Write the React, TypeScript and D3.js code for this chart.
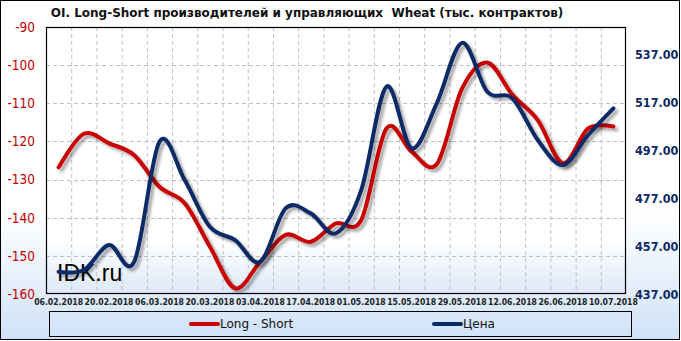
import React from 'react';
import * as d3 from 'd3';

const dates = [
  '06.02.2018', '13.02.2018', '20.02.2018', '27.02.2018', '06.03.2018', '13.03.2018',
  '20.03.2018', '27.03.2018', '03.04.2018', '10.04.2018', '17.04.2018', '24.04.2018',
  '01.05.2018', '08.05.2018', '15.05.2018', '22.05.2018', '29.05.2018', '05.06.2018',
  '12.06.2018', '19.06.2018', '26.06.2018', '03.07.2018', '10.07.2018',
];
const longShort = [
  -126.8, -118.0, -120.5, -123.6, -131.9, -136.2, -147.6, -158.5, -151.5, -144.5, -146.3, -141.5,
  -140.6, -116.6, -122.7, -125.9, -106.1, -99.3, -107.8, -114.4, -125.7, -116.6, -116.1,
];
const price = [
  446.3, 447.0, 457.4, 450.5, 500.5, 484.5, 465.0, 459.5, 450.5, 472.7, 470.6, 462.3,
  480.3, 523.4, 497.7, 516.6, 541.7, 521.3, 518.5, 501.2, 490.8, 503.3, 514.4,
];
const leftTicks = [-90, -100, -110, -120, -130, -140, -150, -160];
const rightTicks = [437, 457, 477, 497, 517, 537];
const title = 'OI. Long-Short производителей и управляющих  Wheat (тыс. контрактов)';
const seriesNames = ['Long - Short', 'Цена'];

const W = 681;
const H = 341;
const L = 46, R = 626, T = 27, B = 294;
const RED = '#c80000';
const BLUE = '#0c2a66';

export default function App() {
  const x = d3.scaleBand<string>().domain(dates).range([L, R]).padding(0);
  const bw = x.bandwidth();
  const cx = (d: string) => (x(d) as number) + bw / 2;
  const yL = d3.scaleLinear().domain([-160, -90]).range([B, T]);
  const yR = d3.scaleLinear().domain([437, 548.3]).range([B, T]);
  const curve = d3.curveCatmullRom.alpha(0);
  const redPath = d3.line<number>().x((_, i) => cx(dates[i])).y((v) => yL(v)).curve(curve)(longShort) || '';
  const bluePath = d3.line<number>().x((_, i) => cx(dates[i])).y((v) => yR(v)).curve(curve)(price) || '';

  const font = "'DejaVu Sans', Verdana, sans-serif";
  const fontC = "'DejaVu Sans Condensed', 'DejaVu Sans', sans-serif";

  return (
    <svg width={W} height={H} style={{ position: 'absolute', left: 0, top: 0 }}>
      <defs>
        <linearGradient id="bg" x1="0" y1="0" x2="0" y2="1">
          <stop offset="0" stopColor="#ffffff" />
          <stop offset="0.62" stopColor="#ffffff" />
          <stop offset="1" stopColor="#cfe2f7" />
        </linearGradient>
        <linearGradient id="plotbg" x1="0" y1="0" x2="0" y2="1">
          <stop offset="0" stopColor="#ffffff" />
          <stop offset="0.8" stopColor="#ffffff" />
          <stop offset="1" stopColor="#dce9f8" />
        </linearGradient>
        <filter id="shadow" x="-10%" y="-10%" width="120%" height="130%">
          <feDropShadow dx="3" dy="3" stdDeviation="1.4" floodColor="#000" floodOpacity="0.35" />
        </filter>
        <clipPath id="plotclip">
          <rect x={L} y={T - 10} width={R - L + 10} height={B - T + 20} />
        </clipPath>
      </defs>
      <rect x={0.5} y={0.5} width={W - 2} height={H - 2} fill="url(#bg)" stroke="#000" strokeWidth={1} />
      <text x={307} y={17} textAnchor="middle" fontFamily={font} fontWeight="bold" fontSize={12}
        fill="#111" style={{ whiteSpace: 'pre' }}>{title}</text>
      <rect x={L} y={T} width={R - L} height={B - T} fill="url(#plotbg)" />
      {dates.slice(1).map((d) => (
        <line key={'v' + d} x1={(x(d) as number) + 0.5} x2={(x(d) as number) + 0.5} y1={T} y2={B}
          stroke="#c0c0c0" strokeDasharray="4,3" />
      ))}
      {leftTicks.slice(1, -1).map((t) => (
        <line key={'h' + t} x1={L} x2={R} y1={Math.round(yL(t)) + 0.5} y2={Math.round(yL(t)) + 0.5}
          stroke="#c0c0c0" strokeDasharray="4,3" />
      ))}
      <text x={57} y={281} fontFamily="'Liberation Sans', Arial, sans-serif" fontSize={23} fill="#000">IDK.ru</text>
      <g clipPath="url(#plotclip)">
        <path d={redPath} fill="none" stroke={RED} strokeWidth={4} strokeLinecap="round" filter="url(#shadow)" />
        <path d={bluePath} fill="none" stroke={BLUE} strokeWidth={4} strokeLinecap="round" filter="url(#shadow)" />
      </g>
      <rect x={L + 0.5} y={T + 0.5} width={R - L - 1} height={B - T - 1} fill="none" stroke="#000" strokeWidth={1.2} />
      {leftTicks.map((t) => (
        <text key={'l' + t} x={35} y={yL(t)} dy="0.36em" textAnchor="end" fontFamily={fontC}
          fontSize={13.5} fill={RED}>{t}</text>
      ))}
      {rightTicks.map((t) => (
        <text key={'r' + t} x={635} y={yR(t)} dy="0.36em" textAnchor="start" fontFamily={fontC}
          fontWeight="bold" fontSize={12.5} fill={BLUE}>{t.toFixed(2)}</text>
      ))}
      {dates.map((d, i) => i % 2 === 0 ? (
        <text key={'x' + d} x={cx(d)} y={305} textAnchor="middle" fontFamily={fontC}
          fontWeight="bold" fontSize={8.6} fill="#222">{d}</text>
      ) : null)}
      <rect x={49.5} y={311.5} width={582} height={25} fill="none" stroke="#000" strokeWidth={1} />
      <line x1={191} x2={218} y1={324} y2={324} stroke={RED} strokeWidth={4} strokeLinecap="round" />
      <text x={220} y={324} dy="0.36em" fontFamily={font} fontSize={12} fill="#111">{seriesNames[0]}</text>
      <line x1={434} x2={461} y1={324} y2={324} stroke={BLUE} strokeWidth={4} strokeLinecap="round" />
      <text x={463} y={324} dy="0.36em" fontFamily={font} fontSize={12} fill="#111">{seriesNames[1]}</text>
    </svg>
  );
}
